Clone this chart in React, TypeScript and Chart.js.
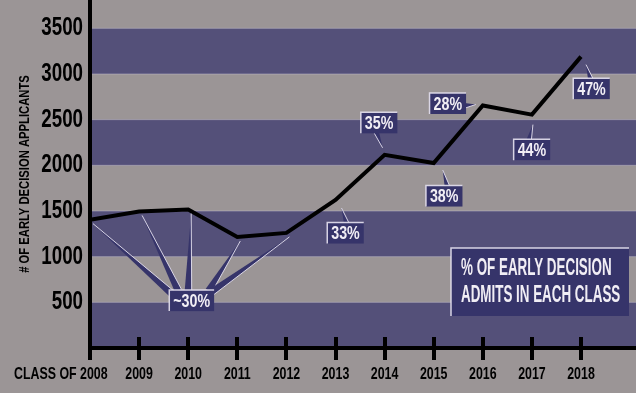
import React, { useEffect, useRef } from 'react';
import { Chart, registerables } from 'chart.js';

Chart.register(...registerables);

// ---- data ----
const years = [2008, 2009, 2010, 2011, 2012, 2013, 2014, 2015, 2016, 2017, 2018];
const applicants = [1405, 1495, 1515, 1215, 1260, 1620, 2115, 2025, 2655, 2555, 3190];
const xTickLabels = ['CLASS OF 2008', '2009', '2010', '2011', '2012', '2013', '2014', '2015', '2016', '2017', '2018'];
const yTickValues = [500, 1000, 1500, 2000, 2500, 3000, 3500];
const purpleBands = [[0, 500], [1000, 1500], [2000, 2500], [3000, 3500]];
const groupedRateLabel = '~30%';
const groupedRateYears = [2008, 2009, 2010, 2011, 2012];
const rateYears = [2013, 2014, 2015, 2016, 2017, 2018];
const rateLabels = ['33%', '35%', '38%', '28%', '44%', '47%'];
const yTitle = '# OF EARLY DECISION APPLICANTS';
const legendLines = ['% OF EARLY DECISION', 'ADMITS IN EACH CLASS'];

// ---- styles / layout ----
const FONT = "'Liberation Sans', Arial, sans-serif";
const CONDENSE = 0.75; // horizontal squeeze for all text (condensed poster face)
const LEGEND_CONDENSE = 0.57;
const GRAY = '#9b9596';
const PURPLE = '#545079';
const BOX_FILL = '#36346a';
const BOX_EDGE = 'rgba(228,224,238,0.92)';
const BOX_TEXT = '#f1eef5';

// callout layout (pixel offsets relative to the point)
const calloutLayout = [
  { box: [10, 33], tip: [6, 8], side: 'top', off: 1 },
  { box: [-5.5, -32], tip: [-2, -7], side: 'bottom', off: -2.5 },
  { box: [10.5, 33], tip: [9, 7], side: 'top', off: 3 },
  { box: [-35, -2], tip: [-7, -1], side: 'right', off: 2 },
  { box: [0, 35], tip: [1, 10], side: 'top', off: -3 },
  { box: [10.5, 32], tip: [5, 8], side: 'top', off: -1 },
];
const groupBoxOffset = [3.5, 91]; // relative to middle grouped point
const groupRayEnds = [[-19, -6], [-13.5, -10], [-3.5, -10], [17, -10], [19, -8]];

function drawWedge(ctx: CanvasRenderingContext2D, tx: number, ty: number, bx: number, by: number, half: number) {
  const dx = bx - tx, dy = by - ty;
  const len = Math.hypot(dx, dy) || 1;
  const nx = (-dy / len) * half, ny = (dx / len) * half;
  ctx.beginPath();
  ctx.moveTo(tx, ty);
  ctx.lineTo(bx + nx, by + ny);
  ctx.lineTo(bx - nx, by - ny);
  ctx.closePath();
  ctx.fillStyle = BOX_FILL;
  ctx.fill();
  ctx.beginPath();
  ctx.moveTo(tx, ty);
  ctx.lineTo(bx - nx, by - ny);
  ctx.strokeStyle = BOX_EDGE;
  ctx.lineWidth = 1;
  ctx.stroke();
}

const CALLOUT_FONT = `bold 19px ${FONT}`;

function boxRect(ctx: CanvasRenderingContext2D, cx: number, cy: number, text: string) {
  ctx.font = CALLOUT_FONT;
  const tw = ctx.measureText(text).width * CONDENSE;
  const w = tw + 8, h = 21;
  return { x: cx - w / 2, y: cy - h / 2, w, h, tw };
}

function drawBox(ctx: CanvasRenderingContext2D, cx: number, cy: number, text: string) {
  const r = boxRect(ctx, cx, cy, text);
  ctx.fillStyle = BOX_FILL;
  ctx.fillRect(r.x, r.y, r.w, r.h);
  ctx.strokeStyle = BOX_EDGE;
  ctx.lineWidth = 1.5;
  ctx.beginPath();
  ctx.moveTo(r.x, r.y + r.h);
  ctx.lineTo(r.x, r.y);
  ctx.lineTo(r.x + r.w, r.y);
  ctx.stroke();
  ctx.fillStyle = BOX_TEXT;
  ctx.font = CALLOUT_FONT;
  ctx.textAlign = 'center';
  ctx.textBaseline = 'middle';
  ctx.fillText(text, cx, cy + 1, r.tw);
}

const decorPlugin = {
  id: 'decor',
  afterInit(chart: any) {
    // render every text run condensed (fillText maxWidth squeeze)
    const ctx = chart.ctx;
    const orig = ctx.fillText.bind(ctx);
    ctx.fillText = (text: string, x: number, y: number, maxWidth?: number) => {
      const w = ctx.measureText(text).width * CONDENSE;
      orig(text, x, y, maxWidth !== undefined ? Math.min(maxWidth, w) : w);
    };
  },
  beforeDraw(chart: any) {
    const { ctx, chartArea, scales } = chart;
    const y = scales.y;
    ctx.save();
    ctx.fillStyle = GRAY;
    ctx.fillRect(0, 0, chart.width, chart.height);
    for (const [a, b] of purpleBands) {
      const top = y.getPixelForValue(b);
      const bot = y.getPixelForValue(a);
      ctx.fillStyle = PURPLE;
      ctx.fillRect(chartArea.left, top, chartArea.right - chartArea.left, bot - top);
      ctx.fillStyle = 'rgba(200,195,210,0.45)';
      ctx.fillRect(chartArea.left, top - 0.5, chartArea.right - chartArea.left, 1);
      ctx.fillRect(chartArea.left, bot - 0.5, chartArea.right - chartArea.left, 1);
    }
    ctx.restore();
  },
  afterDraw(chart: any) {
    const { ctx, chartArea, scales } = chart;
    const x = scales.x;
    const meta = chart.getDatasetMeta(0);
    ctx.save();
    // upper halves of x tick marks
    ctx.strokeStyle = '#000';
    ctx.lineWidth = 4;
    for (const yr of years) {
      const px = Math.round(x.getPixelForValue(yr));
      ctx.beginPath();
      ctx.moveTo(px, chartArea.bottom - 11);
      ctx.lineTo(px, chartArea.bottom);
      ctx.stroke();
    }
    // grouped callout
    const mid = meta.data[years.indexOf(groupedRateYears[2])];
    const gcx = mid.x + groupBoxOffset[0];
    const gcy = mid.y + groupBoxOffset[1];
    groupedRateYears.forEach((yr, i) => {
      const p = meta.data[years.indexOf(yr)];
      drawWedge(ctx, p.x + 3, p.y + 4, gcx + groupRayEnds[i][0], gcy + groupRayEnds[i][1], 3.5);
    });
    drawBox(ctx, gcx, gcy, groupedRateLabel);
    // single callouts
    rateYears.forEach((yr, i) => {
      const p = meta.data[years.indexOf(yr)];
      const L = calloutLayout[i];
      const cx = p.x + L.box[0], cy = p.y + L.box[1];
      const r = boxRect(ctx, cx, cy, rateLabels[i]);
      let bx = cx, by = cy;
      if (L.side === 'top') { bx = cx + L.off; by = r.y + 1; }
      if (L.side === 'bottom') { bx = cx + L.off; by = r.y + r.h - 1; }
      if (L.side === 'right') { bx = r.x + r.w - 1; by = cy + L.off; }
      drawWedge(ctx, p.x + L.tip[0], p.y + L.tip[1], bx, by, 2.5);
      drawBox(ctx, cx, cy, rateLabels[i]);
    });
    // legend box
    const lw = 178, lh = 68;
    const lx = chartArea.right - 7 - lw;
    const ly = chartArea.bottom - 32 - lh;
    ctx.fillStyle = BOX_FILL;
    ctx.fillRect(lx, ly, lw, lh);
    ctx.strokeStyle = BOX_EDGE;
    ctx.lineWidth = 1.5;
    ctx.beginPath();
    ctx.moveTo(lx, ly + lh);
    ctx.lineTo(lx, ly);
    ctx.lineTo(lx + lw, ly);
    ctx.stroke();
    ctx.fillStyle = BOX_TEXT;
    ctx.font = `bold 23.5px ${FONT}`;
    ctx.textAlign = 'left';
    ctx.textBaseline = 'alphabetic';
    legendLines.forEach((line, i) => {
      const w = ctx.measureText(line).width * LEGEND_CONDENSE;
      ctx.fillText(line, lx + 10, ly + 27 + i * 27, w);
    });
    ctx.restore();
  },
};

export default function App() {
  const ref = useRef<HTMLCanvasElement>(null);
  useEffect(() => {
    if (!ref.current) return;
    const chart = new Chart(ref.current, {
      type: 'line',
      data: {
        datasets: [
          {
            data: years.map((yr, i) => ({ x: yr, y: applicants[i] })),
            borderColor: '#000',
            borderWidth: 4,
            pointRadius: 0,
            tension: 0,
            fill: false,
          },
        ],
      },
      options: {
        animation: false,
        responsive: false,
        layout: { padding: 0 },
        plugins: { legend: { display: false }, tooltip: { enabled: false } },
        scales: {
          x: {
            type: 'linear',
            min: 2008,
            max: 2019.12,
            afterBuildTicks: (s: any) => {
              s.ticks = years.map((v) => ({ value: v }));
            },
            afterFit: (s: any) => {
              s.height = 45;
              s.paddingLeft = 0;
              s.paddingRight = 0;
            },
            grid: {
              display: true,
              drawOnChartArea: false,
              drawTicks: true,
              tickLength: 12,
              color: '#000',
              lineWidth: 4,
            },
            border: { display: true, color: '#000', width: 4 },
            ticks: {
              autoSkip: false,
              maxRotation: 0,
              minRotation: 0,
              padding: 5,
              color: '#000',
              font: { family: FONT, size: 16.5, weight: 'bold' },
              callback: (v: any) => {
                const i = years.indexOf(Number(v));
                if (i < 0) return '';
                return i === 0 ? xTickLabels[0] + ' '.repeat(17) : xTickLabels[i];
              },
            },
          },
          y: {
            min: 0,
            max: 3810,
            afterBuildTicks: (s: any) => {
              s.ticks = yTickValues.map((v) => ({ value: v }));
            },
            afterFit: (s: any) => {
              s.width = 90;
              s.paddingTop = 0;
              s.paddingBottom = 0;
            },
            grid: { display: false, drawTicks: false, tickLength: 0 },
            border: { display: true, color: '#000', width: 4 },
            ticks: {
              padding: 7,
              color: '#000',
              font: { family: FONT, size: 25, weight: 'bold' },
              callback: (v: any) => String(v),
            },
            title: {
              display: true,
              text: yTitle,
              color: '#000',
              font: { family: FONT, size: 15, weight: 'bold' },
              padding: { top: 16, bottom: 0 },
            },
          },
        },
      },
      plugins: [decorPlugin],
    });
    return () => chart.destroy();
  }, []);
  return (
    <div style={{ position: 'fixed', left: 0, top: 0, width: 636, height: 393 }}>
      <canvas ref={ref} width={636} height={393} style={{ display: 'block' }} />
    </div>
  );
}
